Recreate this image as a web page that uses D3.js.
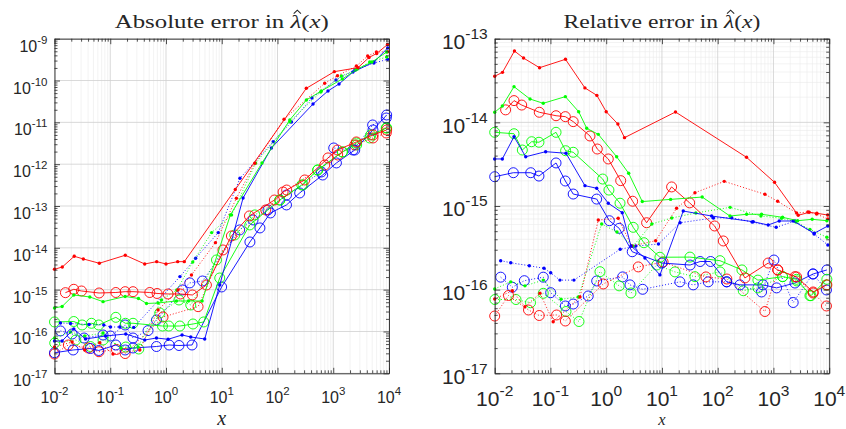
<!DOCTYPE html>
<html>
<head>
<meta charset="utf-8">
<script src="https://cdn.jsdelivr.net/npm/d3@7"></script>
<style>
body { margin: 0; background: #fff; }
text { fill: #262626; }
</style>
</head>
<body>
<div id="chart"></div>
<script>
// tick exponents
const xExp = [-2, -1, 0, 1, 2, 3, 4];
const absExp = [-17, -16, -15, -14, -13, -12, -11, -10, -9];
const relExp = [-17, -16, -15, -14, -13];

// red, solid line, dot markers
const xR1 = [0.01, 0.0138, 0.0226, 0.0329, 0.0637, 0.186, 0.415, 0.681, 1.0, 1.62, 2.13, 17.5, 329, 1045, 2780, 4380, 6020, 9400];
const absR1 = [3.07e-15, 3.48e-15, 6.28e-15, 5.41e-15, 4.28e-15, 6.64e-15, 4.11e-15, 4.67e-15, 4.11e-15, 4.67e-15, 4.67e-15, 2.48e-13, 6.52e-11, 1.63e-10, 2.03e-10, 3.56e-10, 4.43e-10, 7.26e-10];
const relR1 = [3.56e-14, 3.96e-14, 7.13e-14, 5.87e-14, 4.50e-14, 5.67e-14, 2.58e-14, 2.10e-14, 1.34e-14, 9.55e-15, 6.56e-15, 1.33e-14, 3.82e-15, 1.92e-15, 7.74e-16, 8.41e-16, 8.18e-16, 7.80e-16];

// green, solid line, dot markers
const xG1 = [0.01, 0.0137, 0.0222, 0.0430, 0.0743, 0.185, 0.321, 0.447, 0.721, 1.54, 2.53, 4.44, 14.3, 52.7, 166, 330, 612, 1460, 2710, 4950, 9080];
const absG1 = [3.65e-16, 3.96e-16, 7.46e-16, 6.68e-16, 5.16e-16, 6.87e-16, 6.15e-16, 4.67e-16, 4.80e-16, 5.36e-16, 5.36e-16, 5.36e-16, 6.12e-14, 1.07e-12, 1.14e-11, 3.43e-11, 5.63e-11, 1.09e-10, 1.88e-10, 2.77e-10, 4.80e-10];
const relG1 = [1.32e-14, 1.57e-14, 2.67e-14, 1.90e-14, 1.69e-14, 2.03e-14, 1.34e-14, 8.49e-15, 7.19e-15, 3.88e-15, 2.46e-15, 1.13e-15, 1.20e-15, 1.28e-15, 7.59e-16, 7.96e-16, 7.96e-16, 7.33e-16, 6.67e-16, 6.93e-16, 6.67e-16];

// blue, solid line, dot markers
const xB1 = [0.01, 0.0137, 0.0222, 0.0360, 0.0820, 0.190, 0.416, 0.675, 1.09, 1.94, 2.78, 4.95, 9.2, 24.1, 77.8, 434, 805, 1270, 2260, 5380, 9460];
const absB1 = [5.92e-17, 5.92e-17, 1.15e-16, 6.61e-17, 7.80e-17, 8.70e-17, 6.25e-17, 6.98e-17, 6.50e-17, 8.24e-17, 7.38e-17, 6.61e-17, 1.29e-15, 1.55e-13, 2.44e-12, 2.75e-11, 5.63e-11, 8.28e-11, 1.60e-10, 2.77e-10, 5.98e-10];
const relB1 = [3.65e-15, 3.65e-15, 6.74e-15, 3.88e-15, 4.46e-15, 4.27e-15, 1.75e-15, 1.63e-15, 1.08e-15, 8.32e-16, 3.32e-16, 2.39e-16, 1.50e-16, 8.71e-16, 7.59e-16, 6.49e-16, 5.93e-16, 6.62e-16, 6.62e-16, 4.72e-16, 5.77e-16];

// red, dotted line, dot markers
const xR2 = [0.01, 0.0207, 0.0349, 0.0649, 0.112, 0.339, 0.721, 1.64, 2.86, 7.71, 18.3, 39.1, 131, 703, 1190, 2600, 4150, 5940, 9460];
const absR2 = [4.25e-17, 5.60e-17, 3.61e-17, 5.39e-17, 2.89e-17, 3.61e-17, 3.27e-16, 9.82e-16, 2.24e-15, 1.33e-14, 1.53e-13, 1.05e-12, 1.19e-11, 8.61e-11, 1.30e-10, 2.22e-10, 3.85e-10, 4.80e-10, 4.88e-10];
const relR2 = [7.73e-17, 9.71e-17, 6.25e-17, 9.04e-17, 4.14e-17, 8.17e-17, 6.80e-16, 7.13e-16, 3.32e-16, 3.85e-16, 9.39e-16, 1.44e-15, 1.97e-15, 1.38e-15, 1.14e-15, 8.25e-16, 8.47e-16, 8.02e-16, 6.99e-16];

// green, dotted line, dot markers
const xG2 = [0.01, 0.0194, 0.0349, 0.0743, 0.155, 0.316, 0.830, 1.56, 3.02, 6.59, 15.0, 40.5, 167, 596, 1400, 2530, 4510, 9080];
const absG2 = [6.98e-17, 9.71e-17, 7.80e-17, 9.19e-17, 4.03e-17, 4.25e-17, 5.66e-16, 9.82e-16, 4.59e-15, 2.31e-14, 6.12e-14, 1.05e-12, 1.04e-11, 5.33e-11, 1.28e-10, 1.78e-10, 2.77e-10, 3.65e-10];
const relG2 = [1.02e-16, 1.24e-16, 1.11e-16, 1.30e-16, 7.67e-17, 8.17e-17, 6.09e-16, 4.89e-16, 3.32e-16, 6.09e-16, 7.19e-16, 8.25e-16, 9.64e-16, 7.59e-16, 7.13e-16, 6.44e-16, 5.26e-16, 4.23e-16];

// blue, dotted line, dot markers
const xB2 = [0.0128, 0.0194, 0.0417, 0.0766, 0.101, 0.148, 0.264, 1.78, 3.40, 8.65, 21.2, 83.8, 178, 414, 1120, 2440, 5360, 9460];
const absB2 = [1.60e-16, 1.55e-16, 1.47e-16, 1.43e-16, 1.28e-16, 1.28e-16, 1.25e-16, 2.05e-15, 5.63e-15, 2.31e-14, 4.59e-13, 3.45e-12, 1.02e-11, 3.83e-11, 1.03e-10, 1.78e-10, 2.62e-10, 3.21e-10];
const relB2 = [2.22e-16, 2.10e-16, 1.93e-16, 1.80e-16, 1.59e-16, 1.30e-16, 1.30e-16, 3.04e-16, 3.32e-16, 3.51e-16, 6.31e-16, 7.19e-16, 7.24e-16, 6.44e-16, 5.56e-16, 6.62e-16, 4.62e-16, 3.42e-16];

// red, solid line, circle markers
const xR3 = [0.0157, 0.0222, 0.0305, 0.0631, 0.126, 0.185, 0.256, 0.512, 0.692, 1.09, 1.82, 2.98, 5.31, 14.9, 31.4, 88.1, 126, 308, 805, 1190, 2600, 5160, 9080];
const absR3 = [8.47e-16, 1.02e-15, 9.29e-16, 8.32e-16, 8.55e-16, 8.94e-16, 8.94e-16, 8.55e-16, 8.10e-16, 7.88e-16, 7.88e-16, 7.46e-16, 1.29e-15, 1.92e-14, 5.79e-14, 1.39e-13, 2.16e-13, 4.19e-13, 1.41e-12, 2.18e-12, 3.40e-12, 4.99e-12, 6.57e-12];
const relR3 = [1.41e-14, 1.82e-14, 1.61e-14, 1.32e-14, 1.20e-14, 1.17e-14, 1.02e-14, 6.87e-15, 4.80e-15, 3.65e-15, 2.01e-15, 1.14e-15, 6.31e-16, 1.69e-15, 1.09e-15, 5.77e-16, 3.82e-16, 1.38e-16, 2.08e-16, 1.72e-16, 1.42e-16, 9.38e-17, 1.14e-16];

// green, solid line, circle markers
const xG3 = [0.01, 0.0222, 0.0313, 0.0460, 0.0622, 0.126, 0.187, 0.256, 0.865, 1.12, 1.77, 3.05, 4.75, 9.2, 31.8, 110, 272, 526, 1460, 2600, 4700, 9080];
const absG3 = [1.69e-16, 1.73e-16, 1.43e-16, 1.57e-16, 1.43e-16, 2.18e-16, 1.57e-16, 1.57e-16, 1.35e-16, 1.35e-16, 1.35e-16, 1.51e-16, 1.69e-16, 1.90e-15, 3.53e-14, 1.39e-13, 3.18e-13, 7.25e-13, 1.96e-12, 3.21e-12, 4.99e-12, 7.33e-12];
const relG3 = [7.60e-15, 7.31e-15, 4.67e-15, 5.87e-15, 5.78e-15, 7.60e-15, 4.58e-15, 4.39e-15, 2.10e-15, 1.55e-15, 1.08e-15, 5.56e-16, 3.64e-16, 2.44e-16, 2.45e-16, 2.22e-16, 1.72e-16, 1.30e-16, 1.43e-16, 1.33e-16, 8.47e-17, 1.33e-16];

// blue, solid line, circle markers
const xB3 = [0.01, 0.0216, 0.0443, 0.0622, 0.126, 0.185, 0.256, 0.675, 1.14, 1.71, 2.93, 9.95, 32.0, 48.4, 74.6, 145, 250, 647, 1140, 2430, 5160, 9080];
const absB3 = [3.10e-17, 3.61e-17, 3.92e-17, 3.51e-17, 4.75e-17, 3.61e-17, 4.03e-17, 4.37e-17, 4.75e-17, 4.62e-17, 4.75e-17, 1.16e-15, 1.38e-14, 2.99e-14, 6.82e-14, 1.06e-13, 2.05e-13, 5.51e-13, 1.07e-12, 2.18e-12, 6.57e-12, 1.50e-11];
const relB3 = [2.24e-15, 2.50e-15, 2.50e-15, 2.28e-15, 3.27e-15, 1.99e-15, 1.39e-15, 1.21e-15, 6.67e-16, 5.41e-16, 2.84e-16, 2.08e-16, 1.97e-16, 2.17e-16, 2.17e-16, 1.24e-16, 1.14e-16, 1.14e-16, 1.05e-16, 1.20e-16, 1.54e-16, 1.72e-16];

// red, dotted line, circle markers
const xR4 = [0.01, 0.0177, 0.0404, 0.0628, 0.129, 0.185, 0.885, 3.76, 10.5, 61.5, 146, 703, 1200, 2430, 5160, 8930];
const absR4 = [2.89e-17, 4.75e-17, 4.03e-17, 3.28e-17, 3.71e-17, 2.97e-17, 2.22e-16, 3.92e-16, 8.89e-15, 8.05e-14, 2.41e-13, 9.55e-13, 1.66e-12, 2.88e-12, 4.23e-12, 5.57e-12];
const relR4 = [4.84e-17, 8.51e-17, 5.71e-17, 4.91e-17, 4.98e-17, 4.22e-17, 1.17e-16, 1.87e-16, 2.14e-16, 1.42e-16, 1.34e-16, 5.48e-17, 1.72e-16, 1.43e-16, 9.12e-17, 6.38e-17];

// green, dotted line, circle markers
const xG4 = [0.0101, 0.0241, 0.0439, 0.0743, 0.190, 0.325, 0.773, 1.71, 2.78, 8.04, 17.1, 39.1, 110, 287, 526, 1460, 2630, 4510, 8930];
const absG4 = [5.30e-17, 6.25e-17, 4.37e-17, 6.25e-17, 4.25e-17, 3.81e-17, 2.77e-16, 5.66e-16, 4.30e-16, 5.13e-15, 2.03e-14, 6.12e-14, 1.39e-13, 3.18e-13, 7.25e-13, 1.96e-12, 2.88e-12, 4.23e-12, 7.33e-12];
const relG4 = [7.62e-17, 7.62e-17, 6.98e-17, 9.04e-17, 5.48e-17, 4.16e-17, 1.64e-16, 1.11e-16, 9.12e-17, 1.97e-16, 1.63e-16, 1.43e-16, 1.63e-16, 9.71e-17, 1.05e-16, 1.43e-16, 1.27e-16, 8.47e-17, 1.14e-16];

// blue, dotted line, circle markers
const xB4 = [0.0128, 0.0207, 0.0340, 0.0743, 0.101, 0.185, 0.256, 0.476, 0.675, 1.97, 2.67, 4.51, 21.0, 36.4, 67.6, 145, 612, 1020, 2260, 5090, 8930];
const absB4 = [1.03e-16, 8.70e-17, 6.98e-17, 8.24e-17, 7.80e-17, 1.43e-16, 6.98e-17, 1.05e-16, 1.88e-16, 9.82e-16, 1.45e-15, 1.61e-15, 2.68e-14, 4.65e-14, 8.05e-14, 1.83e-13, 6.50e-13, 2.44e-12, 2.18e-12, 8.65e-12, 1.27e-11];
const relB4 = [1.41e-16, 1.07e-16, 1.28e-16, 1.41e-16, 9.20e-17, 6.38e-17, 6.73e-17, 8.40e-17, 1.27e-16, 1.42e-16, 1.14e-16, 1.01e-16, 1.24e-16, 1.14e-16, 1.24e-16, 1.24e-16, 9.38e-17, 2.26e-16, 7.02e-17, 1.54e-16, 9.91e-17];

const RED = "#ff0000", GREEN = "#00ff00", BLUE = "#0000ff";

const series = [
    { color: BLUE, marker: "circle", dotted: true, x: xB4, abs: absB4, rel: relB4 },
    { color: GREEN, marker: "circle", dotted: true, x: xG4, abs: absG4, rel: relG4 },
    { color: RED, marker: "circle", dotted: true, x: xR4, abs: absR4, rel: relR4 },
    { color: BLUE, marker: "circle", dotted: false, x: xB3, abs: absB3, rel: relB3 },
    { color: GREEN, marker: "circle", dotted: false, x: xG3, abs: absG3, rel: relG3 },
    { color: RED, marker: "circle", dotted: false, x: xR3, abs: absR3, rel: relR3 },
    { color: BLUE, marker: "dot", dotted: true, x: xB2, abs: absB2, rel: relB2 },
    { color: GREEN, marker: "dot", dotted: true, x: xG2, abs: absG2, rel: relG2 },
    { color: RED, marker: "dot", dotted: true, x: xR2, abs: absR2, rel: relR2 },
    { color: BLUE, marker: "dot", dotted: false, x: xB1, abs: absB1, rel: relB1 },
    { color: GREEN, marker: "dot", dotted: false, x: xG1, abs: absG1, rel: relG1 },
    { color: RED, marker: "dot", dotted: false, x: xR1, abs: absR1, rel: relR1 }
];

const svg = d3.select("#chart")
    .append("svg")
    .attr("width", 846)
    .attr("height", 429);

function drawPanel(p) {
    const width = 334.5, height = 334.6;
    const g = svg.append("g")
        .attr("transform", `translate(${p.left},${p.top})`);

    const x = d3.scaleLog().domain([1e-2, 1e4]).range([0, width]);
    const y = d3.scaleLog().domain([Math.pow(10, p.yExp[0]), Math.pow(10, p.yExp[p.yExp.length - 1])]).range([height, 0]);

    const xMajor = xExp.map(e => Math.pow(10, e));
    const yMajor = p.yExp.map(e => Math.pow(10, e));
    const minorOf = majors => d3.merge(majors.slice(0, -1).map(m => d3.range(2, 10).map(k => k * m)));
    const xMinor = minorOf(xMajor);
    const yMinor = minorOf(yMajor);

    // grid
    const grid = g.append("g").attr("fill", "none");
    grid.selectAll(".vmin").data(xMinor).join("line")
        .attr("x1", d => x(d)).attr("x2", d => x(d))
        .attr("y1", 0).attr("y2", height)
        .attr("stroke", "#ebebeb").attr("stroke-width", 0.6);
    if (p.yMinorGrid) {
        grid.selectAll(".hmin").data(yMinor).join("line")
            .attr("x1", 0).attr("x2", width)
            .attr("y1", d => y(d)).attr("y2", d => y(d))
            .attr("stroke", "#ebebeb").attr("stroke-width", 0.6);
    }
    grid.selectAll(".vmaj").data(xMajor).join("line")
        .attr("x1", d => x(d)).attr("x2", d => x(d))
        .attr("y1", 0).attr("y2", height)
        .attr("stroke", "#cfcfcf").attr("stroke-width", 0.8);
    grid.selectAll(".hmaj").data(yMajor).join("line")
        .attr("x1", 0).attr("x2", width)
        .attr("y1", d => y(d)).attr("y2", d => y(d))
        .attr("stroke", "#cfcfcf").attr("stroke-width", 0.8);

    // series
    const key = p.key;
    series.forEach(s => {
        const pts = s.x.map((v, i) => [v, s[key][i]]);
        const line = d3.line().x(d => x(d[0])).y(d => y(d[1]));
        g.append("path")
            .datum(pts)
            .attr("fill", "none")
            .attr("stroke", s.color)
            .attr("stroke-width", 0.9)
            .attr("stroke-dasharray", s.dotted ? "1,2" : null)
            .attr("d", line);
        g.append("g").selectAll("circle").data(pts).join("circle")
            .attr("cx", d => x(d[0]))
            .attr("cy", d => y(d[1]))
            .attr("r", s.marker === "dot" ? 1.7 : 5)
            .attr("fill", s.marker === "dot" ? s.color : "none")
            .attr("stroke", s.marker === "dot" ? "none" : s.color)
            .attr("stroke-width", 0.9);
    });

    // axes (box + inward ticks on all sides)
    const axisColor = "#262626";
    function addAxis(axisFn, scale, vals, size, transform, domain) {
        const a = g.append("g")
            .attr("transform", transform)
            .call(axisFn(scale).tickValues(vals).tickSize(-size).tickSizeOuter(0).tickFormat(""));
        a.selectAll("line").attr("stroke", axisColor).attr("stroke-width", 0.8);
        a.select(".domain").attr("stroke", axisColor).attr("stroke-width", 0.9)
            .attr("display", domain ? null : "none");
    }
    addAxis(d3.axisBottom, x, xMinor, 3, `translate(0,${height})`, false);
    addAxis(d3.axisBottom, x, xMajor, 5.5, `translate(0,${height})`, true);
    addAxis(d3.axisTop, x, xMinor, 3, "translate(0,0)", false);
    addAxis(d3.axisTop, x, xMajor, 5.5, "translate(0,0)", true);
    addAxis(d3.axisLeft, y, yMinor, 3, "translate(0,0)", false);
    addAxis(d3.axisLeft, y, yMajor, 5.5, "translate(0,0)", true);
    addAxis(d3.axisRight, y, yMinor, 3, `translate(${width},0)`, false);
    addAxis(d3.axisRight, y, yMajor, 5.5, `translate(${width},0)`, true);

    // tick labels 10^n
    const font = "'Liberation Sans', Arial, Helvetica, sans-serif";
    xExp.forEach(e => {
        const t = g.append("text")
            .attr("x", x(Math.pow(10, e)))
            .attr("y", height + p.xLabelDy)
            .attr("text-anchor", "middle")
            .attr("font-family", font)
            .attr("font-size", p.fs);
        t.append("tspan").text("10");
        t.append("tspan").attr("dy", -p.supDy).attr("font-size", p.fsSup).text(String(e));
    });
    p.yExp.forEach(e => {
        const t = g.append("text")
            .attr("x", -p.yLabelGap)
            .attr("y", y(Math.pow(10, e)) + p.yLabelDy)
            .attr("text-anchor", "end")
            .attr("font-family", font)
            .attr("font-size", p.fs);
        t.append("tspan").text("10");
        t.append("tspan").attr("dy", -p.supDy).attr("font-size", p.fsSup).text(String(e));
    });

    // title, with a hat drawn over the lambda
    const serif = "'Liberation Serif', 'Times New Roman', serif";
    const titleY = -11;
    const title = g.append("text")
        .attr("x", width / 2)
        .attr("y", titleY)
        .attr("text-anchor", "middle")
        .attr("font-family", serif)
        .attr("font-size", 19.5)
        .attr("textLength", p.titleLen)
        .attr("lengthAdjust", "spacingAndGlyphs");
    title.append("tspan").text(p.title + " ");
    title.append("tspan").attr("font-style", "italic").text("\u03BB");
    title.append("tspan").text("(");
    title.append("tspan").attr("font-style", "italic").text("x");
    title.append("tspan").text(")");
    let hatX = width / 2 + p.titleLen / 2 - 30;
    try {
        const ext = title.node().getExtentOfChar(p.title.length + 1);
        hatX = ext.x + ext.width / 2 + 1.5;
    } catch (err) {}
    g.append("path")
        .attr("d", `M${hatX - 3.6},${titleY - 14}L${hatX},${titleY - 17.5}L${hatX + 3.6},${titleY - 14}`)
        .attr("fill", "none")
        .attr("stroke", "#262626")
        .attr("stroke-width", 1.1);

    // x axis label
    g.append("text")
        .attr("x", width / 2)
        .attr("y", height + p.xTitleDy)
        .attr("text-anchor", "middle")
        .attr("font-family", serif)
        .attr("font-style", "italic")
        .attr("font-size", p.xTitleFs)
        .text("x");
}

drawPanel({
    left: 54.5, top: 38.7, key: "abs", yExp: absExp, yMinorGrid: false,
    title: "Absolute error in", titleLen: 214,
    fs: 16, fsSup: 11.5, supDy: 8, xLabelDy: 30, yLabelDy: 13, yLabelGap: 7,
    xTitleDy: 51.3, xTitleFs: 20
});
drawPanel({
    left: 494.7, top: 38.7, key: "rel", yExp: relExp, yMinorGrid: true,
    title: "Relative error in", titleLen: 197,
    fs: 21, fsSup: 15.5, supDy: 10, xLabelDy: 33, yLabelDy: 10.5, yLabelGap: 7,
    xTitleDy: 52.2, xTitleFs: 16.5
});
</script>
</body>
</html>
